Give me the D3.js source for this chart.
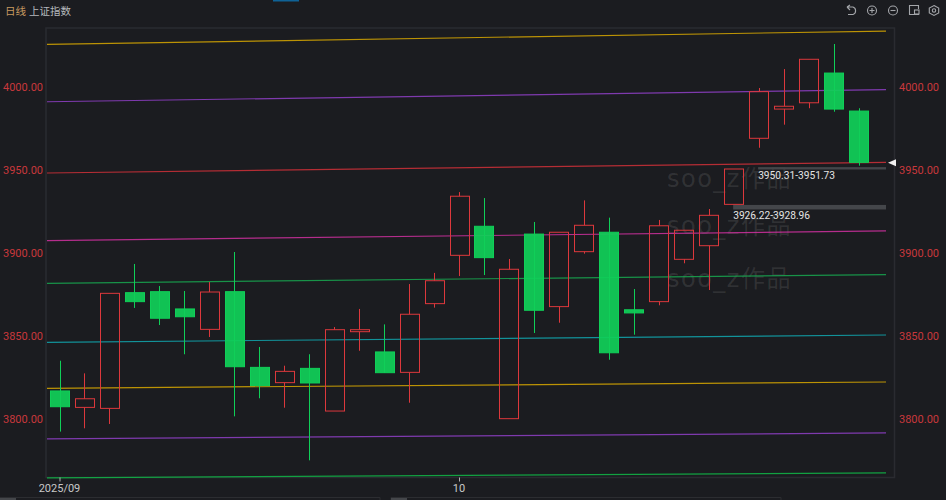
<!DOCTYPE html>
<html><head><meta charset="utf-8">
<style>html,body{margin:0;padding:0;background:#1b1c20;overflow:hidden}svg{display:block}</style>
<script src="https://cdn.jsdelivr.net/npm/d3@7"></script></head>
<body><svg id="c" width="946" height="500"></svg>
<script>
const opens  = [3816.9,3807.0,3806.4,3876.1,3876.7,3866.3,3854.0,3876.7,3831.1,3821.9,3830.5,3804.8,3852.6,3840.4,3828.1,3869.5,3898.6,3916.1,3800.2,3911.4,3867.7,3900.8,3912.5,3865.8,3870.7,3896.2,3904.4,3929.3,3969.1,3986.7,3990.5,4008.4,3985.5];
const closes = [3807.4,3812.2,3875.7,3870.7,3860.7,3861.6,3876.5,3831.5,3820.1,3828.7,3821.7,3853.8,3853.8,3827.9,3863.1,3883.3,3934.2,3897.2,3890.2,3865.5,3912.5,3916.7,3839.9,3863.9,3916.4,3913.7,3922.7,3950.6,3997.2,3988.4,4016.7,3986.7,3954.6];
const highs  = [3835.1,3827.5,3875.7,3893.4,3880.1,3877.1,3882.5,3900.6,3843.4,3832.1,3839.0,3855.4,3866.3,3857.0,3881.3,3888.0,3936.7,3933.1,3896.4,3918.7,3912.5,3931.7,3921.3,3878.3,3919.9,3913.7,3926.5,3950.6,3999.4,4010.8,4016.7,4025.9,3987.2];
const lows   = [3792.4,3794.4,3797.0,3866.9,3856.6,3839.0,3849.4,3801.6,3812.5,3806.8,3775.1,3804.8,3841.1,3827.9,3809.8,3867.1,3886.1,3886.7,3800.2,3851.8,3858.0,3899.6,3835.7,3850.8,3868.5,3893.8,3877.7,3929.3,3963.4,3977.3,3987.2,3985.1,3952.6];

const trendNames  = ["gold","violet","red","magenta","green","teal","yellow","purple","lime"];
const trendStart  = [4025.7,3991.1,3948.2,3907.5,3881.7,3846.2,3818.5,3788.0,3764.5];
const trendEnd    = [4033.7,3998.4,3954.6,3913.3,3887.0,3850.6,3822.3,3791.6,3767.5];
const trendColors = ["#d8a800","#9040c8","#d03038","#d030a0","#18a850","#10a8b0","#d8a800","#9040c8","#10b848"];

const yTicks = [4000,3950,3900,3850,3800];
const xTickIndex = [0,16];
const xTickLabels = ["2025/09","10"];
const gapLow = [3950.31,3926.22];
const gapHigh = [3951.73,3928.96];
const gapStart = [28,27];
const lastPrice = 3954.6;
const watermark = "soo_z作品";
const watermarkY = [187,234,287];

const svg = d3.select("#c");
const font = "Roboto, 'Noto Sans CJK SC', sans-serif";
const x = d3.scaleLinear().domain([0,32]).range([59.5,858.5]);
const y = d3.scaleLinear().domain([4000,3800]).range([87,419]);
const L=47,R=886,RF=894.5,T=28,B=477.5;
const UP="#dc383c",DOWN="#10cf58",bw=19;

// frame
svg.append("path").attr("d",`M${L-1},${T}H${RF}V${B}H${L-1}Z`).attr("fill","none").attr("stroke","#2a2b30").attr("stroke-width",1.5);

// watermark
svg.append("g").selectAll("text").data(watermarkY).join("text")
  .attr("x",667).attr("y",d=>d).text(watermark)
  .attr("font-family","'DejaVu Sans','Noto Sans CJK SC',sans-serif").attr("font-size",24).attr("letter-spacing",1.5)
  .attr("fill","#fff").attr("fill-opacity",.1);

// gap bars
const idx=d3.range(gapLow.length);
svg.append("g").selectAll("rect").data(idx).join("rect")
  .attr("x",i=>x(gapStart[i])-0.5).attr("width",i=>R-x(gapStart[i])+0.5)
  .attr("y",i=>y(gapHigh[i])).attr("height",i=>y(gapLow[i])-y(gapHigh[i]))
  .attr("fill","#44464a");
svg.append("g").selectAll("text").data(idx).join("text")
  .attr("x",i=>x(gapStart[i])-0.5).attr("y",i=>y(gapLow[i])+9.5)
  .text(i=>`${gapLow[i].toFixed(2)}-${gapHigh[i].toFixed(2)}`)
  .attr("font-family",font).attr("font-size",10.2).attr("fill","#e4e4e4");

// trend lines
svg.append("g").attr("stroke-opacity",.85).selectAll("line").data(trendNames).join("line")
  .attr("x1",L).attr("x2",R)
  .attr("y1",(d,i)=>y(trendStart[i])).attr("y2",(d,i)=>y(trendEnd[i]))
  .attr("stroke",(d,i)=>trendColors[i]).attr("stroke-width",1.2);

// candles
const cs=d3.range(opens.length).map(i=>({i,o:opens[i],c:closes[i],h:highs[i],l:lows[i],up:closes[i]>=opens[i]}));
const g=svg.append("g").selectAll("g").data(cs).join("g");
g.append("line").attr("x1",d=>Math.round(x(d.i))+.5).attr("x2",d=>Math.round(x(d.i))+.5)
  .attr("y1",d=>y(d.h)).attr("y2",d=>y(d.l))
  .attr("stroke",d=>d.up?UP:DOWN).attr("stroke-width",1);
g.append("rect")
  .attr("x",d=>Math.round(x(d.i)-bw/2)+.5).attr("width",bw)
  .attr("y",d=>y(Math.max(d.o,d.c))).attr("height",d=>Math.max(1,Math.abs(y(d.o)-y(d.c))))
  .attr("fill",d=>d.up?"none":DOWN).attr("fill-opacity",.93)
  .attr("stroke",d=>d.up?UP:DOWN).attr("stroke-width",1);
// hollow up candles: the wick is not drawn inside the body
g.filter(d=>d.up).select("line").attr("stroke-dasharray",d=>{
  const a=y(Math.max(d.o,d.c))-y(d.h), b=Math.abs(y(d.o)-y(d.c)), c=y(d.l)-y(Math.min(d.o,d.c));
  return `${a} ${b} ${c}`;
});

// y axis
const yAxisFn=(sel,xp)=>sel.selectAll("text").data(yTicks).join("text")
  .attr("x",xp).attr("y",d=>y(d)).attr("dy","0.35em").text(d=>d.toFixed(2))
  .attr("font-family",font).attr("font-size",11).attr("fill","#c8383c");
svg.append("g").attr("text-anchor","end").call(yAxisFn,43);
svg.append("g").attr("text-anchor","start").call(yAxisFn,899);

// x axis
svg.append("g").selectAll("line").data(xTickIndex).join("line")
  .attr("x1",d=>x(d)+.5).attr("x2",d=>x(d)+.5).attr("y1",B).attr("y2",B+4).attr("stroke","#b0b0b0");
svg.append("g").selectAll("text").data(xTickIndex).join("text")
  .attr("x",d=>x(d)).attr("y",492).attr("text-anchor","middle").text((d,i)=>xTickLabels[i])
  .attr("font-family",font).attr("font-size",11).attr("fill","#c8c8c8");

// last price pointer
svg.append("path").attr("d",d3.line()([[888,y(lastPrice)+.5],[896,y(lastPrice)-3],[896,y(lastPrice)+4]])+"Z").attr("fill","#f0f0f0");

// title
svg.append("text").attr("x",5).attr("y",15).text("日线").attr("font-family","'Noto Sans CJK SC'").attr("font-size",10.5).attr("fill","#c89a60");
svg.append("text").attr("x",29).attr("y",15).text("上证指数").attr("font-family","'Noto Sans CJK SC'").attr("font-size",10.5).attr("fill","#b4b8bc");

// chrome
svg.append("rect").attr("x",273).attr("y",0).attr("width",26).attr("height",1.5).attr("fill","#0f6296");
[[0,380],[391,781]].forEach(([a,b])=>{
  svg.append("path").attr("d",`M${a},500V497.5H${b}V500`).attr("fill","none").attr("stroke","#2c2d31");
  svg.append("rect").attr("x",a).attr("y",498).attr("width",16).attr("height",2).attr("fill","#44464a");
});

// toolbar icons
const ic=svg.append("g").attr("fill","none").attr("stroke","#a4a6aa").attr("stroke-width",1.1);
ic.append("path").attr("d","M847,7 L850,5 M847,7 L850,10 M847,7 H853 A4,4 0 0 1 853,14.5 H848");
[872,893].forEach((cx,k)=>{
  ic.append("circle").attr("cx",cx).attr("cy",10.5).attr("r",4.5);
  ic.append("path").attr("d",k==0?`M${cx-2.5},10.5H${cx+2.5}M${cx},8V13`:`M${cx-2.5},10.5H${cx+2.5}`);
});
ic.append("path").attr("d","M919,14.5H909.5V5.5H918.5V9");
ic.append("rect").attr("x",914.5).attr("y",10).attr("width",4.5).attr("height",4);
ic.append("path").attr("d","M934,5.5L938.7,8V13L934,15.5L929.3,13V8Z");
ic.append("circle").attr("cx",934).attr("cy",10.5).attr("r",1.7);
</script></body></html>
